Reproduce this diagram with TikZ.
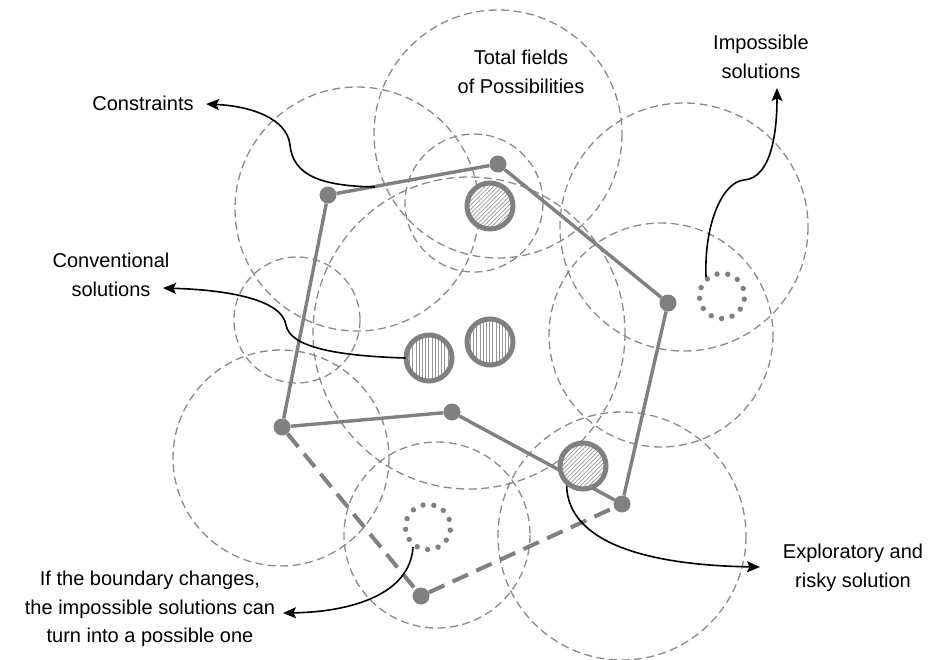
\documentclass[tikz,border=0pt]{standalone}
\usepackage{fontspec}
\setmainfont{Liberation Sans}
\usetikzlibrary{arrows.meta,patterns.meta,calc}
\definecolor{ringgray}{RGB}{138,138,138}
\definecolor{linegray}{RGB}{128,128,128}
\definecolor{hatchgray}{RGB}{150,150,150}

\begin{document}
\begin{tikzpicture}[x=1pt,y=-1pt,
  field/.style={draw=ringgray, line width=1.3pt, dash pattern=on 8pt off 4.5pt},
  edge/.style={draw=linegray, line width=3.4pt},
  openedge/.style={draw=linegray, line width=4pt, dash pattern=on 17pt off 9pt},
  vertex/.style={circle, fill=linegray, inner sep=0pt, minimum size=17pt},
  solution/.style={circle, draw=linegray, line width=5pt, inner sep=0pt, minimum size=46pt, preaction={fill=white}},
  diaghatch/.style={solution, pattern={Lines[angle=45,distance=3pt,line width=0.7pt]}, pattern color=hatchgray},
  verthatch/.style={solution, pattern={Lines[angle=90,distance=3.2pt,line width=0.8pt]}, pattern color=hatchgray},
  note/.style={align=center, font=\fontsize{20}{28.5}\selectfont, inner sep=0pt},
  pointer/.style={draw=black, line width=1.6pt, -{Stealth[length=13pt,width=11pt,inset=2.5pt]}},
]
\useasboundingbox (0,0) rectangle (928,659);

% fields of possibilities
\draw[field] (498,134) circle (124);
\draw[field] (357,209) circle (122);
\draw[field] (474,203) circle (69);
\draw[field] (469,333) circle (156);
\draw[field] (684,227) circle (124);
\draw[field] (661,335) circle (112);
\draw[field] (297,320) circle (63);
\draw[field] (281,458) circle (108);
\draw[field] (437,535) circle (93);
\draw[field] (622,536) circle (124);

% boundary vertices
\node[vertex] (p1) at (328,195) {};
\node[vertex] (p2) at (498,164) {};
\node[vertex] (p3) at (668,303) {};
\node[vertex] (p4) at (622,504) {};
\node[vertex] (p6) at (452,412) {};
\node[vertex] (p7) at (282,427) {};
\node[vertex] (p8) at (421,596) {};

% boundary edges
\draw[edge] (p1) -- (p2) -- (p3) -- (p4);
\draw[edge] (p4) -- (p6) -- (p7) -- (p1);
\draw[openedge] (p7) -- (p8);
\draw[openedge] (p8) -- (p4);

% solutions
\node[diaghatch] (h1) at (490,206) {};
\node[verthatch] (h2) at (429,358) {};
\node[verthatch] (h3) at (490,342) {};
\node[diaghatch] (h4) at (583,466) {};

% impossible solutions (dotted rings)
\coordinate (d1) at (722,296);
\coordinate (d2) at (428,527);
\foreach \k in {0,...,12} {
  \fill[linegray] ($(d1)+(\k*360/13+8:22.5)$) circle (2.7);
  \fill[linegray] ($(d2)+(\k*360/13+8:22.5)$) circle (2.7);
}

% labels
\node[note] (total) at (521,72) {Total fields\\of Possibilities};
\node[note] (impossible) at (761,57) {Impossible\\solutions};
\node[note] (constraints) at (143,103) {Constraints};
\node[note] (conventional) at (111,275) {Conventional\\solutions};
\node[note] (exploratory) at (853,568) {Exploratory and\\risky solution};
\node[note] (boundary) at (150,609) {If the boundary changes,\\the impossible solutions can\\turn into a possible one};

% pointers
\coordinate (cstart) at (375,187);
\coordinate (ctip) at (206,104);
\coordinate (vtip) at (163,288);
\coordinate (istart) at (706,277);
\coordinate (itip) at (777,88);
\coordinate (etip) at (760,567);
\coordinate (bstart) at (413,547);
\coordinate (btip) at (283,613);

\draw[pointer] (cstart) .. controls (320,186) and (293,175) .. (290,145)
  .. controls (287,118) and (250,106) .. (ctip);
\draw[pointer] (h2.west) .. controls (340,356) and (290,348) .. (286,325)
  .. controls (282,300) and (230,290) .. (vtip);
\draw[pointer] (istart) .. controls (704,225) and (722,182) .. (744,180)
  .. controls (772,178) and (777,130) .. (itip);
\draw[pointer] (h4.230) .. controls (568,540) and (640,565) .. (etip);
\draw[pointer] (bstart) .. controls (410,595) and (350,612) .. (btip);
\end{tikzpicture}
\end{document}
